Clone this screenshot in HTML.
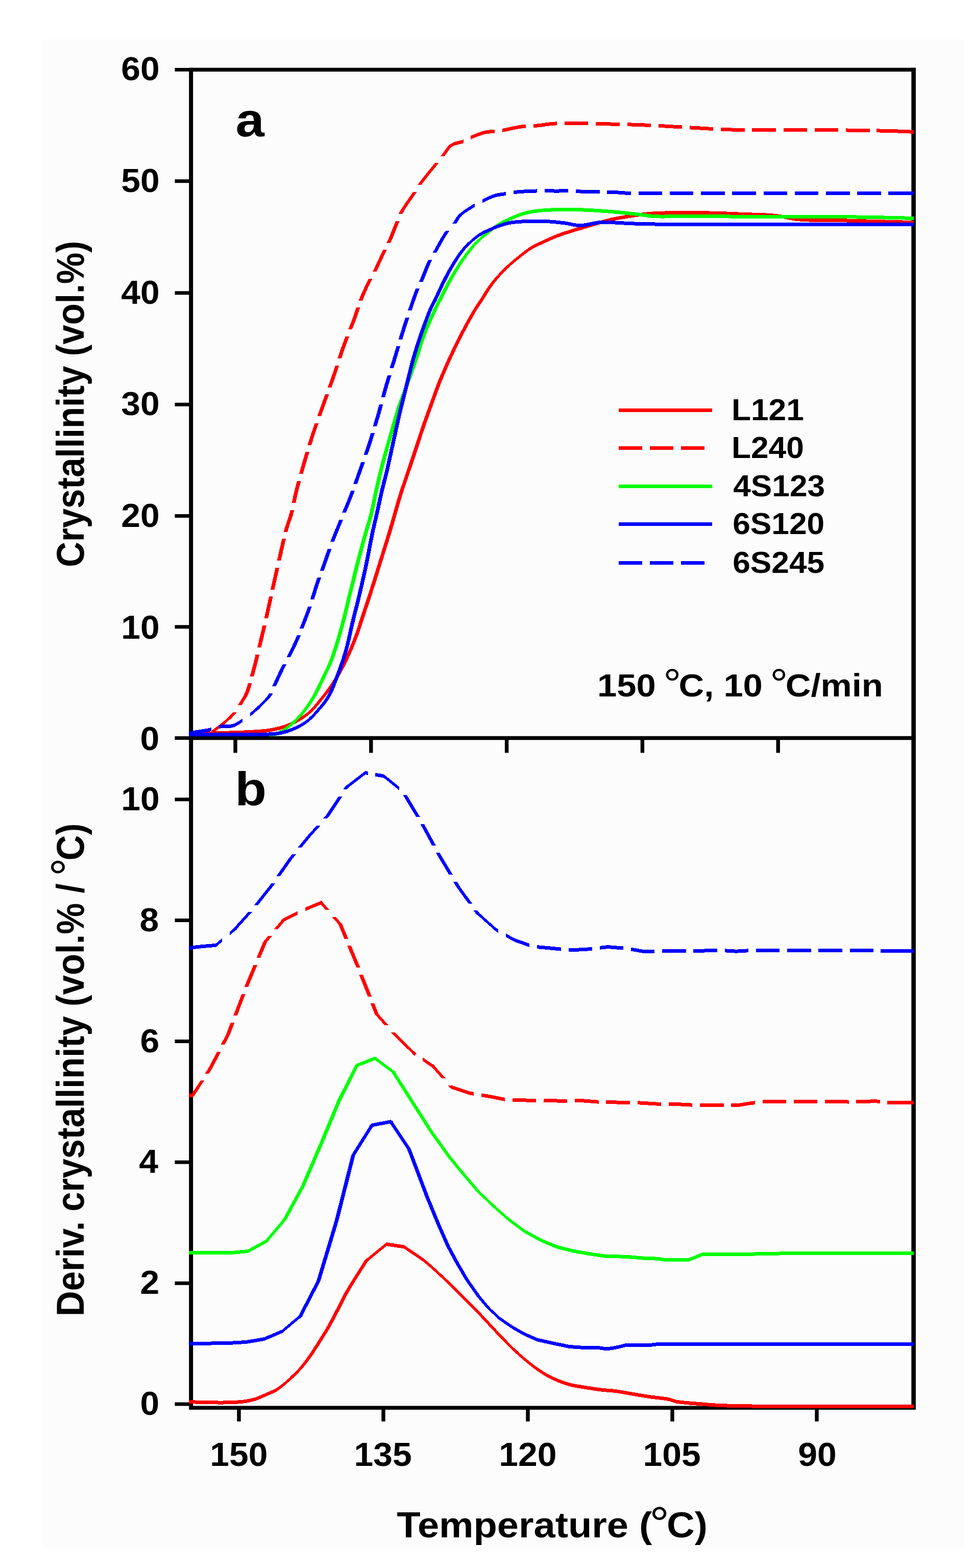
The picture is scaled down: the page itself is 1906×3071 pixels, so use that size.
<!DOCTYPE html>
<html lang="en">
<head>
<meta charset="utf-8">
<title>Crystallinity vs temperature</title>
<style>
html,body{margin:0;padding:0;background:#fff;}
body{width:1906px;height:3071px;overflow:hidden;}
svg{display:block;}
text{font-family:"Liberation Sans", "DejaVu Sans", sans-serif;font-weight:700;fill:#000;}
.ax{stroke:#000;fill:none;stroke-linecap:butt;}
</style>
</head>
<body>
<svg width="1906" height="3071" viewBox="0 0 1906 3071" role="img" aria-label="Crystallinity and derivative of crystallinity versus temperature">
<rect x="0" y="0" width="1906" height="3071" fill="#ffffff"/>
<rect x="82" y="77" width="1807" height="2957" fill="#fcfcfd"/>

<g id="axes">
<line class="ax" stroke-width="8.0" x1="374.2" y1="132.8" x2="374.2" y2="2761.0"/>
<line class="ax" stroke-width="8.6" x1="1789.6" y1="132.8" x2="1789.6" y2="2761.0"/>
<line class="ax" stroke-width="7.4" x1="374.2" y1="136.5" x2="1793.6" y2="136.5"/>
<line class="ax" stroke-width="7.4" x1="374.2" y1="1445.5" x2="1793.6" y2="1445.5"/>
<line class="ax" stroke-width="7.4" x1="374.2" y1="2757.3" x2="1793.6" y2="2757.3"/>
<line class="ax" stroke-width="7" x1="342.5" y1="136.4" x2="374.2" y2="136.4"/>
<line class="ax" stroke-width="7" x1="342.5" y1="354.8" x2="374.2" y2="354.8"/>
<line class="ax" stroke-width="7" x1="342.5" y1="573.7" x2="374.2" y2="573.7"/>
<line class="ax" stroke-width="7" x1="342.5" y1="792.2" x2="374.2" y2="792.2"/>
<line class="ax" stroke-width="7" x1="342.5" y1="1010.5" x2="374.2" y2="1010.5"/>
<line class="ax" stroke-width="7" x1="342.5" y1="1227.7" x2="374.2" y2="1227.7"/>
<line class="ax" stroke-width="7" x1="342.5" y1="1445.5" x2="374.2" y2="1445.5"/>
<line class="ax" stroke-width="7" x1="342.5" y1="1565.8" x2="374.2" y2="1565.8"/>
<line class="ax" stroke-width="7" x1="342.5" y1="1802.6" x2="374.2" y2="1802.6"/>
<line class="ax" stroke-width="7" x1="342.5" y1="2039.5" x2="374.2" y2="2039.5"/>
<line class="ax" stroke-width="7" x1="342.5" y1="2276.3" x2="374.2" y2="2276.3"/>
<line class="ax" stroke-width="7" x1="342.5" y1="2513.2" x2="374.2" y2="2513.2"/>
<line class="ax" stroke-width="7" x1="342.5" y1="2750.0" x2="374.2" y2="2750.0"/>
<line class="ax" stroke-width="7.4" x1="461.0" y1="1445.5" x2="461.0" y2="1474.5"/>
<line class="ax" stroke-width="7.4" x1="726.8" y1="1445.5" x2="726.8" y2="1474.5"/>
<line class="ax" stroke-width="7.4" x1="992.6" y1="1445.5" x2="992.6" y2="1474.5"/>
<line class="ax" stroke-width="7.4" x1="1258.4" y1="1445.5" x2="1258.4" y2="1474.5"/>
<line class="ax" stroke-width="7.4" x1="1524.2" y1="1445.5" x2="1524.2" y2="1474.5"/>
<line class="ax" stroke-width="7.4" x1="468.0" y1="2757.3" x2="468.0" y2="2784"/>
<line class="ax" stroke-width="7.4" x1="751.0" y1="2757.3" x2="751.0" y2="2784"/>
<line class="ax" stroke-width="7.4" x1="1034.0" y1="2757.3" x2="1034.0" y2="2784"/>
<line class="ax" stroke-width="7.4" x1="1317.0" y1="2757.3" x2="1317.0" y2="2784"/>
<line class="ax" stroke-width="7.4" x1="1600.0" y1="2757.3" x2="1600.0" y2="2784"/>
</g>
<g id="panel-a-curves">
<path fill="#ff0000" shape-rendering="crispEdges" d="M608.0 1389.4 612.5 1393.6 608.0 1397.8 603.5 1393.6ZM993.3 519.1 997.9 523.3 993.3 527.5 988.8 523.3ZM374.0 1433.5 377.4 1433.4 380.6 1433.3 383.9 1433.3 387.3 1433.2 390.9 1433.1 395.0 1433.0 402.6 1432.8 411.4 1432.6 420.8 1432.3 430.6 1432.1 440.3 1431.8 449.4 1431.5 457.6 1431.2 465.9 1430.9 474.0 1430.7 482.0 1430.3 489.7 1429.9 497.0 1429.5 502.7 1429.1 508.1 1428.8 513.3 1428.4 518.4 1427.9 523.5 1427.3 528.7 1426.5 534.1 1425.5 539.5 1424.4 544.9 1423.2 550.3 1421.8 555.5 1420.2 560.5 1418.5 565.0 1416.7 569.4 1414.8 573.7 1412.8 577.9 1410.6 582.0 1408.4 586.0 1406.0 589.9 1403.6 593.6 1401.2 597.3 1398.7 600.9 1396.0 604.5 1393.2 608.0 1390.1 608.0 1397.1 604.5 1400.2 600.9 1403.0 597.3 1405.7 593.6 1408.2 589.9 1410.6 586.0 1413.0 582.0 1415.4 577.9 1417.6 573.7 1419.8 569.4 1421.8 565.0 1423.7 560.5 1425.5 555.5 1427.2 550.3 1428.8 544.9 1430.2 539.5 1431.4 534.1 1432.5 528.7 1433.5 523.5 1434.3 518.4 1434.9 513.3 1435.4 508.1 1435.8 502.7 1436.1 497.0 1436.5 489.7 1436.9 482.0 1437.3 474.0 1437.7 465.9 1437.9 457.6 1438.2 449.4 1438.5 440.3 1438.8 430.6 1439.1 420.8 1439.3 411.4 1439.6 402.6 1439.8 395.0 1440.0 390.9 1440.1 387.3 1440.2 383.9 1440.3 380.6 1440.3 377.4 1440.4 374.0 1440.5ZM604.2 1393.6 608.1 1389.8 611.9 1385.7 615.7 1381.3 619.4 1376.9 623.0 1372.4 626.5 1368.0 629.9 1363.8 633.2 1359.7 636.4 1355.5 639.6 1351.3 642.6 1347.1 645.6 1342.8 648.4 1338.7 651.1 1334.5 653.7 1330.4 656.2 1326.2 658.7 1321.8 661.2 1317.4 664.0 1312.4 666.7 1307.3 669.4 1302.0 672.0 1296.7 674.6 1291.2 677.2 1285.7 680.0 1279.6 682.7 1273.5 685.4 1267.2 688.0 1260.8 690.6 1254.3 693.2 1247.6 696.0 1240.0 698.7 1232.2 701.3 1224.2 703.9 1216.1 706.5 1208.0 709.1 1200.0 711.8 1192.1 714.4 1184.2 717.0 1176.3 719.7 1168.4 722.3 1160.4 724.9 1152.4 727.6 1144.0 730.2 1135.6 732.9 1127.1 735.5 1118.6 738.2 1110.1 740.8 1101.6 743.5 1093.1 746.2 1084.6 748.9 1076.0 751.5 1067.5 754.2 1059.1 756.7 1050.8 759.1 1042.9 761.4 1035.1 763.7 1027.3 766.0 1019.6 768.1 1012.1 770.2 1005.0 771.8 999.3 773.4 993.9 774.8 988.7 776.3 983.4 777.9 978.2 779.5 972.7 781.5 966.6 783.5 960.4 785.6 954.1 787.8 947.7 790.0 941.2 792.2 934.6 794.8 927.0 797.4 919.1 800.1 911.1 802.8 903.1 805.5 895.0 808.2 887.0 810.9 879.0 813.5 871.1 816.1 863.1 818.7 855.1 821.3 847.2 824.0 839.4 826.6 831.9 829.2 824.5 831.8 817.2 834.5 809.9 837.2 802.5 839.9 794.9 842.9 786.6 846.0 778.2 849.1 769.6 852.3 761.0 855.5 752.5 858.9 744.0 862.4 735.5 866.1 726.9 869.8 718.4 873.6 709.9 877.4 701.5 881.2 693.3 884.8 685.7 888.4 678.2 892.1 670.8 895.7 663.4 899.4 656.1 903.2 648.9 907.0 641.7 911.0 634.3 915.0 627.0 919.0 620.0 922.8 613.4 926.2 607.6 928.3 604.3 930.2 601.4 932.0 598.7 933.8 596.0 935.7 593.2 937.8 590.0 941.1 584.9 944.5 579.3 948.2 573.4 952.1 567.3 956.0 561.4 960.0 555.9 964.0 550.8 968.1 545.9 972.4 541.0 976.7 536.3 981.0 531.7 985.4 527.3 989.6 523.3 997.1 523.3 993.0 527.3 988.6 531.7 984.3 536.3 979.9 541.0 975.7 545.9 971.6 550.8 967.6 555.9 963.6 561.4 959.6 567.3 955.8 573.4 952.1 579.3 948.6 584.9 945.4 590.0 943.3 593.2 941.4 596.0 939.5 598.7 937.7 601.4 935.9 604.3 933.8 607.6 930.3 613.4 926.6 620.0 922.6 627.0 918.6 634.3 914.6 641.7 910.8 648.9 907.0 656.1 903.3 663.4 899.6 670.8 896.0 678.2 892.4 685.7 888.8 693.3 885.0 701.5 881.2 709.9 877.4 718.4 873.7 726.9 870.0 735.5 866.5 744.0 863.1 752.5 859.9 761.0 856.7 769.6 853.6 778.2 850.5 786.6 847.5 794.9 844.7 802.5 842.0 809.9 839.4 817.2 836.8 824.5 834.2 831.9 831.6 839.4 828.9 847.2 826.3 855.1 823.7 863.1 821.0 871.1 818.4 879.0 815.8 887.0 813.1 895.0 810.4 903.1 807.7 911.1 805.0 919.1 802.3 927.0 799.8 934.6 797.6 941.2 795.3 947.7 793.2 954.1 791.1 960.4 789.0 966.6 787.1 972.7 785.4 978.2 783.9 983.4 782.4 988.7 780.9 993.9 779.4 999.3 777.8 1005.0 775.7 1012.1 773.5 1019.6 771.3 1027.3 769.0 1035.1 766.7 1042.9 764.3 1050.8 761.7 1059.1 759.1 1067.5 756.4 1076.0 753.7 1084.6 751.1 1093.1 748.4 1101.6 745.7 1110.1 743.1 1118.6 740.5 1127.1 737.8 1135.6 735.2 1144.0 732.5 1152.4 729.9 1160.4 727.3 1168.4 724.6 1176.3 722.0 1184.2 719.3 1192.1 716.7 1200.0 714.1 1208.0 711.5 1216.1 708.9 1224.2 706.2 1232.2 703.5 1240.0 700.8 1247.6 698.2 1254.3 695.6 1260.8 693.0 1267.2 690.3 1273.5 687.5 1279.6 684.8 1285.7 682.2 1291.2 679.6 1296.7 676.9 1302.0 674.2 1307.3 671.5 1312.4 668.8 1317.4 666.3 1321.8 663.8 1326.2 661.2 1330.4 658.6 1334.5 656.0 1338.7 653.2 1342.8 650.2 1347.1 647.1 1351.3 644.0 1355.5 640.7 1359.7 637.4 1363.8 634.1 1368.0 630.5 1372.4 626.9 1376.9 623.2 1381.3 619.5 1385.7 615.7 1389.8 611.8 1393.6ZM993.3 519.8 997.5 515.9 1001.8 512.2 1006.0 508.6 1010.3 505.0 1014.6 501.5 1018.8 498.1 1023.0 494.8 1027.2 491.5 1031.4 488.3 1035.7 485.3 1040.0 482.5 1044.2 480.1 1048.4 477.8 1052.6 475.7 1056.9 473.7 1061.1 471.8 1065.4 469.8 1069.7 467.8 1074.0 465.9 1078.3 463.9 1082.6 462.1 1086.7 460.3 1090.8 458.7 1094.1 457.4 1097.1 456.3 1100.1 455.3 1103.2 454.2 1106.4 453.2 1110.0 452.0 1115.5 450.2 1121.4 448.4 1127.7 446.4 1134.3 444.5 1140.9 442.5 1147.6 440.5 1155.3 438.2 1163.3 435.8 1171.4 433.4 1179.6 431.1 1187.6 428.9 1195.2 427.0 1201.4 425.6 1207.5 424.4 1213.4 423.3 1219.2 422.2 1225.1 421.3 1231.0 420.3 1237.0 419.4 1243.0 418.5 1249.0 417.6 1255.0 416.8 1260.9 416.1 1266.7 415.5 1271.8 415.0 1276.5 414.6 1281.2 414.3 1286.1 414.0 1291.5 413.8 1297.6 413.6 1311.3 413.3 1327.9 413.2 1346.0 413.1 1364.5 413.2 1382.1 413.4 1397.6 413.6 1407.2 413.8 1416.0 414.1 1424.4 414.5 1432.6 414.9 1441.0 415.3 1450.0 415.7 1461.4 416.1 1473.5 416.5 1486.0 416.9 1498.3 417.4 1510.1 418.1 1521.0 419.1 1528.6 420.1 1535.4 421.4 1542.0 422.7 1548.7 424.1 1555.8 425.3 1563.8 426.3 1577.5 427.2 1592.8 427.8 1609.2 428.0 1626.0 428.1 1642.8 428.2 1659.0 428.5 1674.6 428.9 1690.7 429.3 1706.6 429.8 1722.1 430.2 1736.5 430.6 1749.5 431.0 1757.2 431.2 1764.2 431.4 1770.8 431.6 1777.1 431.8 1783.4 432.0 1790.0 432.2 1790.0 439.2 1783.4 439.0 1777.1 438.8 1770.8 438.6 1764.2 438.4 1757.2 438.2 1749.5 438.0 1736.5 437.6 1722.1 437.2 1706.6 436.8 1690.7 436.3 1674.6 435.9 1659.0 435.5 1642.8 435.2 1626.0 435.1 1609.2 435.0 1592.8 434.8 1577.5 434.2 1563.8 433.3 1555.8 432.3 1548.7 431.1 1542.0 429.7 1535.4 428.4 1528.6 427.1 1521.0 426.1 1510.1 425.1 1498.3 424.4 1486.0 423.9 1473.5 423.5 1461.4 423.1 1450.0 422.7 1441.0 422.3 1432.6 421.9 1424.4 421.5 1416.0 421.1 1407.2 420.8 1397.6 420.6 1382.1 420.4 1364.5 420.2 1346.0 420.1 1327.9 420.2 1311.3 420.3 1297.6 420.6 1291.5 420.8 1286.1 421.0 1281.2 421.3 1276.5 421.6 1271.8 422.0 1266.7 422.5 1260.9 423.1 1255.0 423.8 1249.0 424.6 1243.0 425.5 1237.0 426.4 1231.0 427.3 1225.1 428.3 1219.2 429.2 1213.4 430.3 1207.5 431.4 1201.4 432.6 1195.2 434.0 1187.6 435.9 1179.6 438.1 1171.4 440.4 1163.3 442.8 1155.3 445.2 1147.6 447.5 1140.9 449.5 1134.3 451.5 1127.7 453.4 1121.4 455.4 1115.5 457.2 1110.0 459.0 1106.4 460.2 1103.2 461.2 1100.1 462.3 1097.1 463.3 1094.1 464.4 1090.8 465.7 1086.7 467.3 1082.6 469.1 1078.3 470.9 1074.0 472.9 1069.7 474.8 1065.4 476.8 1061.1 478.8 1056.9 480.7 1052.6 482.7 1048.4 484.8 1044.2 487.1 1040.0 489.5 1035.7 492.3 1031.4 495.3 1027.2 498.5 1023.0 501.8 1018.8 505.1 1014.6 508.5 1010.3 512.0 1006.0 515.6 1001.8 519.2 997.5 522.9 993.3 526.8Z"/>
<path fill="#ff0000" shape-rendering="crispEdges" d="M374.0 1435.5 380.2 1435.1 386.7 1434.9 393.3 1434.7 399.5 1434.3 400.6 1434.2 400.6 1441.2 399.5 1441.3 393.3 1441.7 386.7 1441.9 380.2 1442.1 374.0 1442.5ZM450.8 1400.8 455.4 1405.0 450.8 1409.2 446.3 1405.0ZM415.4 1430.0 416.4 1429.4 418.2 1428.1 420.1 1426.7 422.4 1425.0 427.3 1421.4 432.9 1416.9 439.0 1412.0 445.1 1406.7 450.8 1401.5 450.8 1408.5 445.1 1413.7 439.0 1419.0 432.9 1423.9 427.3 1428.4 422.4 1432.0 420.1 1433.7 418.2 1435.1 416.4 1436.4 415.4 1437.0ZM447.0 1405.0 451.9 1400.0 455.1 1396.3 456.3 1394.8 463.9 1394.8 462.7 1396.3 459.5 1400.0 454.6 1405.0ZM465.7 1381.1 467.8 1377.7 469.9 1374.6 471.8 1371.6 473.7 1368.6 475.4 1365.6 477.2 1362.3 478.9 1358.6 481.2 1352.8 483.4 1346.4 485.5 1339.5 485.9 1338.2 493.4 1338.2 493.1 1339.5 491.0 1346.4 488.8 1352.8 486.5 1358.6 484.8 1362.3 483.0 1365.6 481.2 1368.6 479.4 1371.6 477.4 1374.6 475.4 1377.7 473.2 1381.1ZM489.7 1324.5 491.6 1317.4 494.0 1308.4 496.5 1298.9 498.9 1289.2 500.7 1281.6 508.3 1281.6 506.4 1289.2 504.0 1298.9 501.6 1308.4 499.2 1317.4 497.2 1324.5ZM504.0 1267.9 505.9 1260.0 508.1 1251.0 510.2 1242.0 512.4 1233.2 514.3 1225.0 521.9 1225.0 519.9 1233.2 517.8 1242.0 515.7 1251.0 513.5 1260.0 511.6 1267.9ZM517.5 1211.3 518.6 1206.3 520.7 1196.9 522.8 1187.3 524.9 1177.8 527.0 1168.4 534.5 1168.4 532.5 1177.8 530.4 1187.3 528.3 1196.9 526.2 1206.3 525.0 1211.3ZM530.0 1154.7 531.2 1149.0 533.3 1139.5 535.5 1129.9 537.6 1120.4 539.5 1111.8 547.1 1111.8 545.2 1120.4 543.0 1129.9 540.9 1139.5 538.8 1149.0 537.5 1154.7ZM542.6 1098.1 544.0 1092.0 546.1 1082.8 548.2 1073.4 550.3 1064.1 552.4 1055.2 559.9 1055.2 557.9 1064.1 555.8 1073.4 553.7 1082.8 551.6 1092.0 550.2 1098.1ZM555.8 1041.5 556.7 1038.0 558.5 1032.1 560.3 1026.5 562.1 1021.2 563.9 1016.0 565.6 1010.7 567.2 1005.0 568.8 998.6 576.4 998.6 574.8 1005.0 573.2 1010.7 571.4 1016.0 569.6 1021.2 567.8 1026.5 566.0 1032.1 564.3 1038.0 563.4 1041.5ZM571.7 984.9 571.7 984.8 573.2 977.8 574.7 970.6 576.4 963.2 578.7 954.2 581.2 944.8 582.0 942.0 589.6 942.0 588.8 944.8 586.3 954.2 584.0 963.2 582.3 970.6 580.7 977.8 579.3 984.8 579.3 984.9ZM585.8 928.3 586.6 925.4 589.4 915.6 592.2 906.0 595.0 896.4 597.9 886.9 598.3 885.4 605.9 885.4 605.4 886.9 602.6 896.4 599.8 906.0 597.0 915.6 594.2 925.4 593.4 928.3ZM602.5 871.7 603.7 867.8 606.7 858.3 609.7 848.9 612.8 839.8 615.9 830.8 616.6 828.8 624.2 828.8 623.4 830.8 620.3 839.8 617.3 848.9 614.2 858.3 611.2 867.8 610.0 871.7ZM621.5 815.1 622.2 813.0 625.5 804.0 628.7 795.0 632.1 785.6 635.6 776.1 637.0 772.2 644.6 772.2 643.2 776.1 639.7 785.6 636.3 795.0 633.0 804.0 629.8 813.0 629.1 815.1ZM642.0 758.5 642.6 756.9 646.0 747.4 649.4 737.8 652.6 728.3 655.8 718.7 656.8 715.6 664.3 715.6 663.3 718.7 660.2 728.3 657.0 737.8 653.6 747.4 650.2 756.9 649.6 758.5ZM661.2 701.9 661.9 699.6 665.1 690.1 668.4 680.6 672.0 670.9 675.8 661.1 676.7 659.0 684.2 659.0 683.4 661.1 679.6 670.9 676.0 680.6 672.7 690.1 669.5 699.6 668.8 701.9ZM682.1 645.3 683.6 641.7 687.2 632.4 690.6 623.5 693.1 616.5 695.3 609.8 697.5 603.3 697.8 602.4 705.4 602.4 705.1 603.3 702.9 609.8 700.7 616.5 698.2 623.5 694.8 632.4 691.1 641.7 689.7 645.3ZM702.6 588.7 704.2 584.4 706.7 578.3 709.4 572.2 712.2 566.2 714.9 560.3 717.6 554.7 720.2 549.5 722.1 545.8 722.1 545.8 729.7 545.8 729.7 545.8 727.8 549.5 725.2 554.7 722.5 560.3 719.7 566.2 717.0 572.2 714.3 578.3 711.8 584.4 710.1 588.7ZM729.7 532.1 731.4 528.9 733.9 523.8 736.6 518.2 739.3 512.5 742.0 506.7 744.6 501.0 747.2 495.6 749.4 491.2 750.4 489.2 758.0 489.2 757.0 491.2 754.8 495.6 752.2 501.0 749.5 506.7 746.8 512.5 744.2 518.2 741.5 523.8 739.0 528.9 737.3 532.1ZM757.4 475.5 757.9 474.5 760.0 470.0 762.5 464.4 764.9 458.4 767.4 452.2 769.8 446.1 772.1 440.3 774.2 435.0 775.2 432.6 782.7 432.6 781.8 435.0 779.7 440.3 777.4 446.1 775.0 452.2 772.5 458.4 770.0 464.4 767.6 470.0 765.5 474.5 765.0 475.5ZM780.7 418.9 782.2 416.0 785.6 410.2 789.8 403.7 794.5 396.9 799.2 390.1 803.7 383.7 807.6 378.0 808.9 376.0 816.5 376.0 815.2 378.0 811.3 383.7 806.8 390.1 802.0 396.9 797.4 403.7 793.2 410.2 789.8 416.0 788.3 418.9ZM817.9 362.3 820.2 359.0 824.6 353.2 829.7 346.7 835.2 339.8 840.7 333.0 845.9 326.6 850.5 321.0 851.8 319.4 859.4 319.4 858.1 321.0 853.5 326.6 848.3 333.0 842.7 339.8 837.3 346.7 832.1 353.2 827.8 359.0 825.5 362.3ZM881.3 282.7 885.9 286.9 881.3 291.1 876.8 286.9ZM863.0 305.7 864.8 303.5 867.3 300.2 869.8 296.8 872.2 293.3 874.8 289.9 877.6 286.9 885.1 286.9 882.4 289.9 879.8 293.3 877.3 296.8 874.9 300.2 872.4 303.5 870.6 305.7ZM881.3 283.4 884.4 280.9 887.8 279.1 891.5 277.7 895.3 276.6 899.3 275.7 903.1 274.7 906.7 273.5 907.5 273.2 907.5 280.2 906.7 280.5 903.1 281.7 899.3 282.7 895.3 283.6 891.5 284.7 887.8 286.1 884.4 287.9 881.3 290.4ZM922.3 265.9 924.0 265.1 928.2 263.4 932.8 261.5 937.5 259.7 942.2 258.0 946.8 256.6 951.0 255.5 953.9 255.0 956.6 254.7 959.1 254.5 961.7 254.4 964.3 254.2 967.0 254.0 968.7 253.8 968.7 260.8 967.0 261.0 964.3 261.2 961.7 261.4 959.1 261.5 956.6 261.7 953.9 262.0 951.0 262.5 946.8 263.6 942.2 265.0 937.5 266.7 932.8 268.5 928.2 270.4 924.0 272.1 922.3 272.9ZM983.5 251.9 986.0 251.5 991.3 250.5 997.0 249.3 1003.1 247.9 1009.2 246.6 1015.2 245.4 1021.0 244.5 1025.9 244.0 1029.9 243.7 1029.9 250.7 1025.9 251.0 1021.0 251.5 1015.2 252.4 1009.2 253.6 1003.1 254.9 997.0 256.3 991.3 257.5 986.0 258.5 983.5 258.9ZM1044.8 243.1 1049.5 242.8 1055.1 242.2 1060.9 241.5 1066.7 240.7 1072.6 239.9 1078.5 239.2 1084.4 238.7 1090.2 238.4 1091.2 238.3 1091.2 245.3 1090.2 245.4 1084.4 245.7 1078.5 246.2 1072.6 246.9 1066.7 247.7 1060.9 248.5 1055.1 249.2 1049.5 249.8 1044.8 250.1ZM1106.0 238.1 1107.2 238.1 1113.4 238.1 1120.0 238.1 1130.4 238.2 1142.0 238.3 1152.4 238.5 1152.4 245.5 1142.0 245.3 1130.4 245.2 1120.0 245.1 1113.4 245.1 1107.2 245.1 1106.0 245.1ZM1167.2 238.9 1178.8 239.1 1190.5 239.4 1200.7 239.6 1210.7 239.9 1213.7 239.9 1213.7 246.9 1210.7 246.9 1200.7 246.6 1190.5 246.4 1178.8 246.1 1167.2 245.9ZM1228.5 240.3 1230.3 240.3 1240.1 240.6 1250.0 241.0 1260.3 241.4 1270.6 241.9 1274.9 242.1 1274.9 249.1 1270.6 248.9 1260.3 248.4 1250.0 248.0 1240.1 247.6 1230.3 247.3 1228.5 247.3ZM1289.7 242.9 1291.3 243.0 1301.7 243.5 1312.0 244.1 1322.3 244.7 1332.7 245.3 1336.1 245.5 1336.1 252.5 1332.7 252.3 1322.3 251.7 1312.0 251.1 1301.7 250.5 1291.3 250.0 1289.7 249.9ZM1351.0 246.4 1353.3 246.5 1363.6 247.1 1373.8 247.7 1383.5 248.2 1392.9 248.8 1397.4 249.0 1397.4 256.0 1392.9 255.8 1383.5 255.2 1373.8 254.7 1363.6 254.1 1353.3 253.5 1351.0 253.4ZM1412.2 249.8 1422.1 250.2 1433.3 250.5 1451.6 250.8 1458.6 250.8 1458.6 257.8 1451.6 257.8 1433.3 257.5 1422.1 257.2 1412.2 256.8ZM1473.4 250.9 1493.5 250.9 1515.6 250.8 1519.9 250.8 1519.9 257.8 1515.6 257.8 1493.5 257.9 1473.4 257.9ZM1534.7 250.8 1537.7 250.8 1559.0 250.8 1579.4 250.9 1581.1 250.9 1581.1 257.9 1579.4 257.9 1559.0 257.8 1537.7 257.8 1534.7 257.8ZM1595.9 251.0 1600.0 251.0 1620.6 251.1 1640.7 251.3 1642.3 251.3 1642.3 258.3 1640.7 258.3 1620.6 258.1 1600.0 258.0 1595.9 258.0ZM1657.2 251.4 1659.9 251.5 1678.0 251.7 1691.2 251.9 1703.6 252.1 1703.6 259.1 1691.2 258.9 1678.0 258.7 1659.9 258.5 1657.2 258.4ZM1718.4 252.4 1727.8 252.6 1739.0 252.9 1749.5 253.2 1756.9 253.4 1763.8 253.7 1764.8 253.7 1764.8 260.7 1763.8 260.7 1756.9 260.4 1749.5 260.2 1739.0 259.9 1727.8 259.6 1718.4 259.4ZM1779.7 254.4 1783.4 254.5 1790.0 254.8 1790.0 261.8 1783.4 261.5 1779.7 261.4ZM1717.4 252.4 1727.8 252.6 1739.0 252.9 1749.5 253.2 1756.9 253.4 1763.8 253.7 1770.5 254.0 1776.9 254.3 1783.4 254.5 1790.0 254.8 1790.0 261.8 1783.4 261.5 1776.9 261.3 1770.5 261.0 1763.8 260.7 1756.9 260.4 1749.5 260.2 1739.0 259.9 1727.8 259.6 1717.4 259.4Z"/>
<path fill="#00ff00" shape-rendering="crispEdges" d="M575.6 1410.2 580.1 1414.4 575.6 1418.6 571.1 1414.4ZM936.2 468.2 940.7 472.4 936.2 476.6 931.6 472.4ZM374.0 1435.0 399.8 1435.0 427.5 1435.1 455.1 1435.2 481.0 1435.3 503.2 1435.2 520.0 1435.0 524.7 1435.0 528.5 1435.1 531.9 1435.2 535.0 1435.2 538.0 1434.8 541.4 1434.0 545.6 1432.4 549.9 1430.2 554.2 1427.7 558.5 1424.8 562.7 1421.7 566.8 1418.5 571.2 1414.8 575.6 1410.9 575.6 1417.9 571.2 1421.8 566.8 1425.5 562.7 1428.7 558.5 1431.8 554.2 1434.7 549.9 1437.2 545.6 1439.4 541.4 1441.0 538.0 1441.8 535.0 1442.2 531.9 1442.2 528.5 1442.1 524.7 1442.0 520.0 1442.0 503.2 1442.2 481.0 1442.3 455.1 1442.2 427.5 1442.1 399.8 1442.0 374.0 1442.0ZM571.8 1414.4 576.1 1410.2 580.3 1405.8 584.4 1401.3 588.4 1396.7 592.4 1391.8 596.3 1386.7 600.0 1381.5 603.7 1376.1 607.2 1370.6 610.6 1365.0 614.1 1358.9 617.4 1352.6 620.6 1346.2 623.7 1339.8 626.7 1333.3 629.7 1327.0 632.5 1321.2 635.2 1315.6 637.9 1310.1 640.5 1304.4 643.0 1298.4 645.6 1292.0 648.9 1283.0 652.2 1273.3 655.4 1263.1 658.6 1252.6 661.7 1242.1 664.6 1231.7 667.5 1221.2 670.2 1210.6 672.8 1200.0 675.4 1189.3 677.9 1178.6 680.5 1168.0 683.1 1157.4 685.8 1146.7 688.4 1136.0 691.0 1125.4 693.6 1114.9 696.2 1104.7 698.6 1095.4 701.0 1086.2 703.4 1077.2 705.8 1068.3 708.2 1059.5 710.6 1050.8 712.9 1042.9 715.2 1035.1 717.4 1027.4 719.7 1019.9 721.8 1012.4 723.7 1005.0 725.3 998.5 726.6 992.1 727.9 985.9 729.1 979.6 730.5 973.1 731.9 966.3 733.8 957.8 735.8 949.0 737.9 940.0 740.1 930.8 742.3 921.6 744.6 912.4 747.1 902.9 749.7 893.4 752.4 883.8 755.1 874.2 757.8 864.6 760.5 855.2 763.1 846.1 765.7 836.9 768.2 827.8 770.8 818.8 773.5 809.9 776.2 801.3 778.8 793.6 781.4 786.1 784.1 778.7 786.8 771.5 789.5 764.2 792.2 756.8 794.9 749.5 797.5 742.2 800.2 735.0 802.8 727.6 805.5 720.1 808.2 712.4 811.3 703.2 814.3 693.7 817.4 684.0 820.5 674.2 823.8 664.6 827.2 655.2 830.8 646.2 834.7 637.0 838.6 627.9 842.6 619.2 846.2 611.3 849.4 604.4 851.0 601.0 852.5 598.1 853.8 595.5 855.1 592.9 856.6 590.2 858.2 587.0 860.9 581.6 863.9 575.6 867.1 569.2 870.5 562.6 874.0 556.0 877.5 549.5 881.4 542.6 885.5 535.6 889.8 528.5 894.1 521.6 898.5 514.8 902.9 508.3 907.0 502.6 911.1 497.0 915.3 491.6 919.5 486.3 923.8 481.3 928.2 476.5 932.4 472.4 939.9 472.4 935.8 476.5 931.4 481.3 927.1 486.3 922.8 491.6 918.7 497.0 914.6 502.6 910.5 508.3 906.1 514.8 901.7 521.6 897.3 528.5 893.1 535.6 889.0 542.6 885.1 549.5 881.5 556.0 878.1 562.6 874.7 569.2 871.5 575.6 868.5 581.6 865.8 587.0 864.2 590.2 862.7 592.9 861.4 595.5 860.0 598.1 858.6 601.0 857.0 604.4 853.8 611.3 850.1 619.2 846.2 627.9 842.2 637.0 838.4 646.2 834.8 655.2 831.4 664.6 828.1 674.2 825.0 684.0 821.9 693.7 818.8 703.2 815.8 712.4 813.1 720.1 810.4 727.6 807.7 735.0 805.1 742.2 802.4 749.5 799.8 756.8 797.1 764.2 794.4 771.5 791.7 778.7 789.0 786.1 786.4 793.6 783.8 801.3 781.1 809.9 778.4 818.8 775.8 827.8 773.2 836.9 770.7 846.1 768.1 855.2 765.4 864.6 762.7 874.2 759.9 883.8 757.3 893.4 754.7 902.9 752.2 912.4 749.9 921.6 747.6 930.8 745.5 940.0 743.4 949.0 741.4 957.8 739.5 966.3 738.0 973.1 736.7 979.6 735.5 985.9 734.2 992.1 732.8 998.5 731.3 1005.0 729.4 1012.4 727.2 1019.9 725.0 1027.4 722.7 1035.1 720.4 1042.9 718.2 1050.8 715.8 1059.5 713.4 1068.3 711.0 1077.2 708.6 1086.2 706.2 1095.4 703.8 1104.7 701.2 1114.9 698.6 1125.4 696.0 1136.0 693.3 1146.7 690.7 1157.4 688.1 1168.0 685.5 1178.6 682.9 1189.3 680.4 1200.0 677.8 1210.6 675.0 1221.2 672.2 1231.7 669.2 1242.1 666.2 1252.6 663.0 1263.1 659.8 1273.3 656.5 1283.0 653.2 1292.0 650.6 1298.4 648.0 1304.4 645.4 1310.1 642.8 1315.6 640.1 1321.2 637.3 1327.0 634.3 1333.3 631.3 1339.8 628.2 1346.2 625.0 1352.6 621.6 1358.9 618.2 1365.0 614.8 1370.6 611.2 1376.1 607.6 1381.5 603.8 1386.7 600.0 1391.8 596.0 1396.7 592.0 1401.3 587.9 1405.8 583.7 1410.2 579.4 1414.4ZM936.2 468.9 940.4 464.9 944.8 461.1 949.1 457.5 953.4 454.1 957.5 450.8 960.7 448.2 963.8 445.6 966.9 443.2 969.9 440.9 973.1 438.7 976.5 436.5 980.5 434.2 984.6 431.9 988.9 429.8 993.3 427.7 997.7 425.7 1002.0 423.8 1006.2 422.0 1010.4 420.3 1014.6 418.6 1018.8 417.0 1023.0 415.6 1027.3 414.3 1031.5 413.2 1035.6 412.3 1039.8 411.5 1044.0 410.7 1048.3 410.1 1052.7 409.5 1057.7 408.9 1062.9 408.5 1068.2 408.1 1073.6 407.8 1079.0 407.5 1084.4 407.3 1090.3 407.1 1096.3 407.0 1102.4 406.9 1108.4 406.9 1114.3 407.0 1120.0 407.0 1124.7 407.0 1129.2 407.1 1133.6 407.2 1138.0 407.3 1142.6 407.5 1147.6 407.7 1154.8 408.1 1162.5 408.5 1170.6 409.0 1178.9 409.6 1187.1 410.2 1195.2 410.8 1203.2 411.5 1211.2 412.2 1219.2 413.0 1227.2 413.8 1235.1 414.7 1242.9 415.5 1250.1 416.3 1257.2 417.3 1264.2 418.2 1271.2 419.1 1278.3 419.8 1285.7 420.3 1293.9 420.5 1301.9 420.5 1310.1 420.2 1318.8 419.9 1328.0 419.6 1338.0 419.5 1355.0 419.5 1373.6 419.7 1393.6 420.0 1414.8 420.3 1437.0 420.6 1460.0 420.8 1493.5 420.9 1530.7 421.0 1569.6 421.0 1608.3 421.1 1645.1 421.2 1678.0 421.5 1698.8 421.8 1718.1 422.2 1736.3 422.6 1754.0 423.0 1771.8 423.5 1790.0 423.9 1790.0 430.9 1771.8 430.5 1754.0 430.0 1736.3 429.6 1718.1 429.2 1698.8 428.8 1678.0 428.5 1645.1 428.2 1608.3 428.1 1569.6 428.0 1530.7 428.0 1493.5 427.9 1460.0 427.8 1437.0 427.6 1414.8 427.3 1393.6 427.0 1373.6 426.7 1355.0 426.5 1338.0 426.5 1328.0 426.6 1318.8 426.9 1310.1 427.2 1301.9 427.5 1293.9 427.5 1285.7 427.3 1278.3 426.8 1271.2 426.1 1264.2 425.2 1257.2 424.3 1250.1 423.3 1242.9 422.5 1235.1 421.7 1227.2 420.8 1219.2 420.0 1211.2 419.2 1203.2 418.5 1195.2 417.8 1187.1 417.2 1178.9 416.6 1170.6 416.0 1162.5 415.5 1154.8 415.1 1147.6 414.7 1142.6 414.5 1138.0 414.3 1133.6 414.2 1129.2 414.1 1124.7 414.0 1120.0 414.0 1114.3 414.0 1108.4 413.9 1102.4 413.9 1096.3 414.0 1090.3 414.1 1084.4 414.3 1079.0 414.5 1073.6 414.8 1068.2 415.1 1062.9 415.5 1057.7 415.9 1052.7 416.5 1048.3 417.1 1044.0 417.7 1039.8 418.5 1035.6 419.3 1031.5 420.2 1027.3 421.3 1023.0 422.6 1018.8 424.0 1014.6 425.6 1010.4 427.3 1006.2 429.0 1002.0 430.8 997.7 432.7 993.3 434.7 988.9 436.8 984.6 438.9 980.5 441.2 976.5 443.5 973.1 445.7 969.9 447.9 966.9 450.2 963.8 452.6 960.7 455.2 957.5 457.8 953.4 461.1 949.1 464.5 944.8 468.1 940.4 471.9 936.2 475.9Z"/>
<path fill="#0000ff" shape-rendering="crispEdges" d="M609.7 1401.5 614.2 1405.7 609.7 1409.9 605.1 1405.7ZM918.9 472.4 923.4 476.6 918.9 480.8 914.3 476.6ZM370.0 1435.0 391.9 1435.1 414.6 1435.2 437.3 1435.3 459.2 1435.4 479.4 1435.3 497.0 1435.1 506.4 1434.9 515.0 1434.8 523.0 1434.7 530.5 1434.3 537.7 1433.8 544.6 1432.9 549.8 1432.0 554.7 1430.9 559.4 1429.7 563.9 1428.4 568.4 1426.8 573.0 1425.0 577.9 1422.9 582.9 1420.5 587.8 1418.0 592.6 1415.2 597.3 1412.3 601.7 1409.1 605.8 1405.8 609.7 1402.2 609.7 1409.2 605.8 1412.8 601.7 1416.1 597.3 1419.3 592.6 1422.2 587.8 1425.0 582.9 1427.5 577.9 1429.9 573.0 1432.0 568.4 1433.8 563.9 1435.4 559.4 1436.7 554.7 1437.9 549.8 1439.0 544.6 1439.9 537.7 1440.8 530.5 1441.3 523.0 1441.7 515.0 1441.8 506.4 1441.9 497.0 1442.1 479.4 1442.3 459.2 1442.4 437.3 1442.3 414.6 1442.2 391.9 1442.1 370.0 1442.0ZM605.9 1405.7 609.6 1401.9 613.2 1398.0 616.7 1394.0 620.2 1390.0 623.6 1386.1 626.9 1382.2 630.1 1378.3 633.2 1374.1 636.3 1369.8 639.2 1365.0 642.7 1358.5 646.0 1351.4 649.2 1343.8 652.3 1336.0 655.3 1328.2 658.2 1320.5 661.1 1312.8 663.9 1305.0 666.7 1297.1 669.3 1289.2 671.8 1281.2 674.2 1273.0 676.6 1264.2 678.7 1255.2 680.8 1246.2 682.7 1237.0 684.7 1228.0 686.8 1219.0 688.9 1210.5 691.0 1202.1 693.1 1193.8 695.3 1185.4 697.4 1176.8 699.5 1168.0 701.9 1157.8 704.4 1147.3 706.8 1136.6 709.2 1125.8 711.6 1115.2 713.8 1104.7 715.8 1094.9 717.7 1085.1 719.5 1075.4 721.3 1065.9 723.1 1056.6 724.9 1047.6 726.5 1040.1 728.2 1033.0 729.8 1026.0 731.5 1019.1 733.1 1012.1 734.7 1005.0 736.4 997.5 738.0 989.9 739.6 982.3 741.3 974.8 742.9 967.3 744.6 960.0 746.2 953.6 747.8 947.4 749.3 941.3 750.9 935.1 752.6 928.8 754.2 922.0 756.3 913.2 758.3 903.8 760.4 894.1 762.6 884.3 764.7 874.5 766.8 864.8 768.9 855.2 771.0 845.6 773.1 836.0 775.2 826.4 777.4 816.9 779.5 807.6 781.6 798.9 783.7 790.4 785.8 782.0 788.0 773.6 790.1 765.2 792.2 756.8 794.3 748.3 796.3 739.9 798.4 731.4 800.5 722.9 802.6 714.4 804.9 706.0 807.3 697.5 809.9 689.0 812.5 680.5 815.2 672.1 818.0 663.6 820.8 655.2 823.9 646.4 827.2 637.2 830.6 628.0 833.9 619.2 837.0 611.2 839.9 604.4 841.4 601.2 842.7 598.5 844.0 596.0 845.3 593.6 846.7 591.0 848.2 588.0 850.6 582.9 853.3 577.2 856.0 571.2 858.9 564.9 861.9 558.7 864.8 552.7 867.8 546.8 870.8 540.9 874.0 535.0 877.1 529.2 880.4 523.5 883.8 517.8 887.2 512.3 890.7 506.8 894.3 501.3 898.0 496.0 901.9 490.9 906.0 486.0 910.4 481.3 915.1 476.6 922.7 476.6 918.0 481.3 913.6 486.0 909.5 490.9 905.6 496.0 901.9 501.3 898.3 506.8 894.8 512.3 891.4 517.8 888.0 523.5 884.7 529.2 881.5 535.0 878.4 540.9 875.4 546.8 872.4 552.7 869.4 558.7 866.5 564.9 863.6 571.2 860.8 577.2 858.2 582.9 855.8 588.0 854.3 591.0 852.9 593.6 851.6 596.0 850.3 598.5 849.0 601.2 847.5 604.4 844.6 611.2 841.5 619.2 838.1 628.0 834.8 637.2 831.5 646.4 828.4 655.2 825.5 663.6 822.7 672.1 820.1 680.5 817.4 689.0 814.9 697.5 812.5 706.0 810.2 714.4 808.0 722.9 805.9 731.4 803.9 739.9 801.9 748.3 799.8 756.8 797.7 765.2 795.5 773.6 793.4 782.0 791.3 790.4 789.2 798.9 787.1 807.6 784.9 816.9 782.8 826.4 780.7 836.0 778.6 845.6 776.5 855.2 774.4 864.8 772.3 874.5 770.1 884.3 768.0 894.1 765.9 903.8 763.8 913.2 761.8 922.0 760.1 928.8 758.5 935.1 756.9 941.3 755.3 947.4 753.8 953.6 752.2 960.0 750.5 967.3 748.9 974.8 747.2 982.3 745.6 989.9 743.9 997.5 742.3 1005.0 740.7 1012.1 739.0 1019.1 737.4 1026.0 735.7 1033.0 734.1 1040.1 732.5 1047.6 730.7 1056.6 728.9 1065.9 727.1 1075.4 725.3 1085.1 723.4 1094.9 721.4 1104.7 719.2 1115.2 716.8 1125.8 714.4 1136.6 711.9 1147.3 709.5 1157.8 707.1 1168.0 705.0 1176.8 702.8 1185.4 700.7 1193.8 698.6 1202.1 696.5 1210.5 694.4 1219.0 692.3 1228.0 690.3 1237.0 688.3 1246.2 686.3 1255.2 684.1 1264.2 681.8 1273.0 679.4 1281.2 676.9 1289.2 674.2 1297.1 671.5 1305.0 668.7 1312.8 665.8 1320.5 662.9 1328.2 659.9 1336.0 656.8 1343.8 653.6 1351.4 650.3 1358.5 646.8 1365.0 643.8 1369.8 640.8 1374.1 637.7 1378.3 634.5 1382.2 631.2 1386.1 627.8 1390.0 624.3 1394.0 620.8 1398.0 617.2 1401.9 613.5 1405.7ZM918.9 473.1 923.8 468.6 928.7 464.4 933.6 460.5 938.4 457.1 942.2 454.7 945.9 452.7 949.6 450.9 953.3 449.2 957.0 447.6 960.6 446.0 963.8 444.5 967.0 443.1 970.1 441.8 973.2 440.5 976.4 439.3 979.7 438.1 983.3 437.0 986.9 435.9 990.6 434.9 994.4 433.9 998.2 433.1 1002.0 432.4 1006.1 431.8 1010.3 431.3 1014.5 431.0 1018.8 430.7 1023.1 430.4 1027.3 430.2 1031.5 430.0 1035.7 429.8 1039.8 429.6 1044.0 429.5 1048.3 429.5 1052.7 429.5 1057.8 429.6 1063.1 429.8 1068.5 430.0 1074.0 430.3 1079.3 430.7 1084.4 431.1 1088.8 431.5 1093.1 431.9 1097.4 432.4 1101.6 432.9 1105.8 433.4 1110.0 434.0 1114.2 434.7 1118.3 435.6 1122.4 436.5 1126.6 437.3 1131.0 438.0 1135.7 438.2 1142.2 437.8 1149.2 436.7 1156.5 435.3 1164.0 433.7 1171.4 432.5 1178.6 431.7 1185.4 431.5 1192.0 431.7 1198.7 432.1 1205.3 432.5 1212.1 433.0 1219.0 433.4 1226.3 433.7 1233.4 434.1 1240.6 434.4 1248.3 434.7 1256.8 435.0 1266.7 435.3 1290.8 435.6 1319.6 435.8 1352.0 435.9 1386.9 435.8 1423.3 435.8 1460.0 435.8 1509.9 435.8 1563.5 435.9 1619.5 435.8 1676.8 435.8 1734.0 435.8 1790.0 435.8 1790.0 442.8 1734.0 442.8 1676.8 442.8 1619.5 442.8 1563.5 442.9 1509.9 442.8 1460.0 442.8 1423.3 442.8 1386.9 442.8 1352.0 442.9 1319.6 442.8 1290.8 442.6 1266.7 442.3 1256.8 442.0 1248.3 441.7 1240.6 441.4 1233.4 441.1 1226.3 440.7 1219.0 440.4 1212.1 440.0 1205.3 439.5 1198.7 439.1 1192.0 438.7 1185.4 438.5 1178.6 438.7 1171.4 439.5 1164.0 440.7 1156.5 442.3 1149.2 443.7 1142.2 444.8 1135.7 445.2 1131.0 445.0 1126.6 444.3 1122.4 443.5 1118.3 442.6 1114.2 441.7 1110.0 441.0 1105.8 440.4 1101.6 439.9 1097.4 439.4 1093.1 438.9 1088.8 438.5 1084.4 438.1 1079.3 437.7 1074.0 437.3 1068.5 437.0 1063.1 436.8 1057.8 436.6 1052.7 436.5 1048.3 436.5 1044.0 436.5 1039.8 436.6 1035.7 436.8 1031.5 437.0 1027.3 437.2 1023.1 437.4 1018.8 437.7 1014.5 438.0 1010.3 438.3 1006.1 438.8 1002.0 439.4 998.2 440.1 994.4 440.9 990.6 441.9 986.9 442.9 983.3 444.0 979.7 445.1 976.4 446.3 973.2 447.5 970.1 448.8 967.0 450.1 963.8 451.5 960.6 453.0 957.0 454.6 953.3 456.2 949.6 457.9 945.9 459.7 942.2 461.7 938.4 464.1 933.6 467.5 928.7 471.4 923.8 475.6 918.9 480.1Z"/>
<path fill="#0000ff" shape-rendering="crispEdges" d="M370.0 1432.5 377.1 1431.4 384.3 1430.2 391.6 1429.1 398.6 1428.0 405.3 1426.8 411.3 1425.5 414.1 1424.8 414.1 1431.8 411.3 1432.5 405.3 1433.8 398.6 1435.0 391.6 1436.1 384.3 1437.2 377.1 1438.4 370.0 1439.5ZM429.0 1420.2 432.0 1419.5 435.9 1419.1 439.9 1419.0 444.0 1419.0 448.1 1419.0 452.0 1418.7 455.7 1418.0 458.8 1416.9 461.8 1415.5 464.7 1414.0 467.5 1412.2 470.3 1410.4 473.2 1408.5 475.4 1407.1 475.4 1414.1 473.2 1415.5 470.3 1417.4 467.5 1419.2 464.7 1421.0 461.8 1422.5 458.8 1423.9 455.7 1425.0 452.0 1425.7 448.1 1426.0 444.0 1426.0 439.9 1426.0 435.9 1426.1 432.0 1426.5 429.0 1427.2ZM505.8 1381.9 510.3 1386.1 505.8 1390.3 501.3 1386.1ZM490.2 1396.2 493.8 1393.2 499.5 1388.2 505.8 1382.6 505.8 1389.6 499.5 1395.2 493.8 1400.2 490.2 1403.2ZM502.0 1386.1 508.6 1379.9 514.8 1373.6 520.4 1367.5 524.9 1361.8 527.1 1358.2 527.5 1357.6 535.1 1357.6 534.7 1358.2 532.5 1361.8 528.0 1367.5 522.4 1373.6 516.1 1379.9 509.6 1386.1ZM533.3 1343.9 534.5 1341.0 536.9 1335.8 539.5 1330.3 542.2 1324.5 544.9 1318.7 547.6 1313.1 550.2 1307.8 552.4 1303.6 553.8 1301.0 561.4 1301.0 559.9 1303.6 557.8 1307.8 555.2 1313.1 552.5 1318.7 549.7 1324.5 547.1 1330.3 544.5 1335.8 542.1 1341.0 540.8 1343.9ZM561.3 1287.3 563.0 1284.0 565.7 1278.7 568.4 1273.1 571.2 1267.4 573.9 1261.6 576.5 1256.0 578.9 1250.7 580.7 1246.6 581.6 1244.4 589.2 1244.4 588.3 1246.6 586.5 1250.7 584.1 1256.0 581.5 1261.6 578.8 1267.4 576.0 1273.1 573.2 1278.7 570.6 1284.0 568.9 1287.3ZM587.0 1230.7 588.4 1227.0 590.5 1221.7 592.7 1216.1 594.9 1210.3 597.2 1204.5 599.3 1198.9 601.2 1193.6 602.7 1189.4 603.2 1187.8 610.8 1187.8 610.2 1189.4 608.8 1193.6 606.8 1198.9 604.7 1204.5 602.5 1210.3 600.3 1216.1 598.1 1221.7 596.0 1227.0 594.6 1230.7ZM607.7 1174.1 607.8 1173.9 609.1 1169.8 610.6 1164.9 612.2 1159.9 613.8 1154.8 615.4 1149.6 617.0 1144.5 618.6 1139.6 620.2 1135.2 621.7 1131.2 629.3 1131.2 627.7 1135.2 626.2 1139.6 624.5 1144.5 622.9 1149.6 621.3 1154.8 619.8 1159.9 618.2 1164.9 616.7 1169.8 615.4 1173.9 615.3 1174.1ZM626.9 1117.5 628.2 1114.0 630.0 1108.9 631.9 1103.6 633.7 1098.2 635.6 1092.9 637.4 1087.6 639.2 1082.5 640.8 1078.1 642.1 1074.6 649.7 1074.6 648.4 1078.1 646.8 1082.5 645.0 1087.6 643.1 1092.9 641.3 1098.2 639.4 1103.6 637.6 1108.9 635.8 1114.0 634.5 1117.5ZM647.2 1060.9 648.7 1057.0 650.7 1051.9 652.8 1046.5 655.0 1041.1 657.2 1035.7 659.4 1030.4 661.4 1025.4 663.1 1021.3 664.4 1018.0 672.0 1018.0 670.7 1021.3 669.0 1025.4 666.9 1030.4 664.8 1035.7 662.6 1041.1 660.4 1046.5 658.3 1051.9 656.3 1057.0 654.8 1060.9ZM670.1 1004.3 671.2 1001.5 673.3 996.5 675.4 991.4 677.6 986.1 679.8 980.8 682.0 975.2 684.2 969.5 686.8 962.6 687.3 961.4 694.8 961.4 694.4 962.6 691.8 969.5 689.6 975.2 687.3 980.8 685.1 986.1 683.0 991.4 680.8 996.5 678.8 1001.5 677.7 1004.3ZM692.2 947.7 694.8 940.4 697.5 932.8 700.2 925.0 703.3 916.3 706.5 907.5 707.5 904.8 715.0 904.8 714.1 907.5 710.9 916.3 707.8 925.0 705.0 932.8 702.3 940.4 699.8 947.7ZM712.3 891.1 713.0 889.3 716.1 880.2 719.2 871.0 722.3 861.6 725.2 852.2 726.5 848.2 734.1 848.2 732.8 852.2 729.8 861.6 726.8 871.0 723.7 880.2 720.5 889.3 719.9 891.1ZM730.7 834.5 731.1 833.1 733.9 823.5 736.7 814.0 739.4 804.5 742.0 794.9 743.0 791.6 750.5 791.6 749.6 794.9 747.0 804.5 744.3 814.0 741.5 823.5 738.6 833.1 738.2 834.5ZM746.6 777.9 747.2 775.9 749.8 766.3 752.5 756.8 755.3 747.3 758.2 737.7 759.1 735.0 766.7 735.0 765.8 737.7 762.9 747.3 760.1 756.8 757.4 766.3 754.8 775.9 754.2 777.9ZM763.3 721.3 764.1 718.7 767.1 709.2 770.0 699.7 773.0 690.0 775.9 680.2 776.5 678.4 784.1 678.4 783.5 680.2 780.5 690.0 777.6 699.7 774.7 709.2 771.7 718.7 770.9 721.3ZM780.6 664.7 781.8 660.7 784.7 651.4 787.5 642.5 789.7 635.7 791.8 629.2 793.9 622.9 794.3 621.8 801.9 621.8 801.5 622.9 799.4 629.2 797.3 635.7 795.1 642.5 792.3 651.4 789.4 660.7 788.2 664.7ZM799.0 608.1 800.2 604.4 802.4 598.1 804.6 591.7 806.8 585.3 808.9 579.2 811.1 573.3 813.2 568.0 814.4 565.2 822.0 565.2 820.8 568.0 818.7 573.3 816.5 579.2 814.3 585.3 812.1 591.7 809.9 598.1 807.8 604.4 806.5 608.1ZM821.0 551.5 821.9 549.5 824.3 543.8 826.9 537.3 829.7 530.4 832.4 523.6 835.2 517.1 837.8 511.4 839.3 508.6 846.9 508.6 845.4 511.4 842.7 517.1 840.0 523.6 837.2 530.4 834.5 537.3 831.9 543.8 829.5 549.5 828.6 551.5ZM847.4 494.9 848.9 492.4 852.2 486.6 855.8 480.1 859.6 473.1 863.6 466.3 867.5 459.9 871.2 454.3 873.1 452.0 880.6 452.0 878.8 454.3 875.0 459.9 871.1 466.3 867.2 473.1 863.4 480.1 859.8 486.6 856.5 492.4 855.0 494.9ZM900.3 418.3 904.8 422.5 900.3 426.7 895.8 422.5ZM885.8 438.3 887.0 436.8 888.7 434.4 890.1 432.0 891.5 429.6 892.9 427.2 894.5 424.8 896.5 422.5 904.1 422.5 902.1 424.8 900.4 427.2 899.0 429.6 897.7 432.0 896.3 434.4 894.6 436.8 893.3 438.3ZM900.3 419.0 903.9 415.7 908.2 412.4 913.0 409.0 917.9 405.8 922.8 402.8 927.3 400.0 929.7 398.6 929.7 405.6 927.3 407.0 922.8 409.8 917.9 412.8 913.0 416.0 908.2 419.4 903.9 422.7 900.3 426.0ZM944.5 390.6 944.5 390.6 948.0 388.9 951.6 387.1 955.3 385.4 959.0 383.7 962.7 382.0 966.4 380.6 970.0 379.4 973.2 378.6 976.4 378.0 979.5 377.5 982.7 377.1 985.8 376.7 989.0 376.2 990.9 375.9 990.9 382.9 989.0 383.2 985.8 383.7 982.7 384.1 979.5 384.5 976.4 385.0 973.2 385.6 970.0 386.4 966.4 387.6 962.7 389.0 959.0 390.7 955.3 392.4 951.6 394.1 948.0 395.9 944.5 397.6 944.5 397.6ZM1005.7 373.3 1008.0 373.0 1014.0 372.4 1020.6 371.9 1027.7 371.4 1035.1 371.1 1042.4 370.7 1049.5 370.5 1052.1 370.4 1052.1 377.4 1049.5 377.5 1042.4 377.7 1035.1 378.1 1027.7 378.4 1020.6 378.9 1014.0 379.4 1008.0 380.0 1005.7 380.3ZM1067.0 370.3 1070.9 370.4 1078.0 370.4 1084.7 370.5 1090.8 370.5 1094.8 370.5 1098.5 370.4 1101.9 370.3 1105.4 370.3 1109.0 370.3 1113.0 370.3 1113.4 370.3 1113.4 377.3 1113.0 377.3 1109.0 377.3 1105.4 377.3 1101.9 377.3 1098.5 377.4 1094.8 377.5 1090.8 377.5 1084.7 377.5 1078.0 377.4 1070.9 377.4 1067.0 377.3ZM1128.2 371.0 1131.6 371.2 1138.3 371.6 1145.1 371.9 1152.0 372.2 1159.9 372.4 1168.2 372.4 1174.6 372.4 1174.6 379.4 1168.2 379.4 1159.9 379.4 1152.0 379.2 1145.1 378.9 1138.3 378.6 1131.6 378.2 1128.2 378.0ZM1189.4 372.5 1192.9 372.5 1200.0 372.7 1204.4 372.9 1208.3 373.3 1212.0 373.6 1215.7 374.0 1219.6 374.3 1224.0 374.5 1230.9 374.7 1235.9 374.7 1235.9 381.7 1230.9 381.7 1224.0 381.5 1219.6 381.3 1215.7 381.0 1212.0 380.6 1208.3 380.3 1204.4 379.9 1200.0 379.7 1192.9 379.5 1189.4 379.5ZM1250.7 374.7 1254.3 374.7 1263.6 374.6 1274.0 374.6 1297.1 374.7 1297.1 381.7 1274.0 381.6 1263.6 381.6 1254.3 381.7 1250.7 381.7ZM1311.9 374.7 1325.3 374.8 1356.3 374.9 1358.3 374.9 1358.3 381.9 1356.3 381.9 1325.3 381.8 1311.9 381.7ZM1373.2 374.9 1389.7 375.0 1419.6 375.0 1419.6 382.0 1389.7 382.0 1373.2 381.9ZM1434.4 375.1 1460.0 375.1 1480.8 375.1 1480.8 382.1 1460.0 382.1 1434.4 382.1ZM1495.6 375.1 1509.6 375.1 1542.1 375.2 1542.1 382.2 1509.6 382.1 1495.6 382.1ZM1556.9 375.2 1563.0 375.2 1603.3 375.2 1603.3 382.2 1563.0 382.2 1556.9 382.2ZM1618.1 375.1 1619.1 375.1 1664.5 375.1 1664.5 382.1 1619.1 382.1 1618.1 382.1ZM1679.4 375.1 1725.8 375.1 1725.8 382.1 1679.4 382.1ZM1740.6 375.1 1787.0 375.1 1787.0 382.1 1740.6 382.1ZM1739.5 375.1 1790.0 375.1 1790.0 382.1 1739.5 382.1Z"/>
</g>
<g id="panel-b-curves">
<path fill="#ff0000" shape-rendering="crispEdges" d="M572.8 2692.2 577.3 2696.4 572.8 2700.6 568.3 2696.4ZM717.4 2465.2 721.9 2469.4 717.4 2473.6 712.9 2469.4ZM863.9 2494.1 868.4 2498.3 863.9 2502.5 859.3 2498.3ZM1012.0 2644.1 1016.5 2648.3 1012.0 2652.5 1007.4 2648.3ZM370.0 2742.0 374.6 2742.2 379.1 2742.4 383.6 2742.6 388.2 2742.8 393.1 2743.0 398.4 2743.1 407.0 2743.2 416.7 2743.4 426.9 2743.5 437.1 2743.5 446.7 2743.3 455.1 2743.1 460.1 2742.9 464.7 2742.6 469.1 2742.3 473.3 2741.9 477.3 2741.5 481.3 2740.9 484.7 2740.3 487.9 2739.7 491.1 2739.1 494.2 2738.3 497.1 2737.5 500.0 2736.7 502.4 2735.9 504.6 2735.1 506.8 2734.2 508.9 2733.3 511.0 2732.3 513.2 2731.4 515.4 2730.4 517.6 2729.5 519.9 2728.5 522.1 2727.5 524.3 2726.5 526.5 2725.5 528.7 2724.6 530.9 2723.7 533.1 2722.8 535.4 2721.9 537.5 2720.8 539.7 2719.7 542.0 2718.3 544.2 2716.9 546.4 2715.3 548.6 2713.7 550.7 2712.0 552.9 2710.3 555.1 2708.5 557.3 2706.7 559.5 2704.8 561.7 2702.9 563.9 2701.0 566.1 2699.0 568.3 2697.0 570.6 2695.0 572.8 2692.9 572.8 2699.9 570.6 2702.0 568.3 2704.0 566.1 2706.0 563.9 2708.0 561.7 2709.9 559.5 2711.8 557.3 2713.7 555.1 2715.5 552.9 2717.3 550.7 2719.0 548.6 2720.7 546.4 2722.3 544.2 2723.9 542.0 2725.3 539.7 2726.7 537.5 2727.8 535.4 2728.9 533.1 2729.8 530.9 2730.7 528.7 2731.6 526.5 2732.5 524.3 2733.5 522.1 2734.5 519.9 2735.5 517.6 2736.5 515.4 2737.4 513.2 2738.4 511.0 2739.3 508.9 2740.3 506.8 2741.2 504.6 2742.1 502.4 2742.9 500.0 2743.7 497.1 2744.5 494.2 2745.3 491.1 2746.1 487.9 2746.7 484.7 2747.3 481.3 2747.9 477.3 2748.5 473.3 2748.9 469.1 2749.3 464.7 2749.6 460.1 2749.9 455.1 2750.1 446.7 2750.3 437.1 2750.5 426.9 2750.5 416.7 2750.4 407.0 2750.2 398.4 2750.1 393.1 2750.0 388.2 2749.8 383.6 2749.6 379.1 2749.4 374.6 2749.2 370.0 2749.0ZM569.0 2696.4 571.2 2694.3 573.4 2692.2 575.6 2690.0 577.9 2687.7 580.1 2685.3 582.3 2682.9 584.5 2680.5 586.7 2678.0 588.8 2675.4 591.1 2672.7 593.3 2669.9 595.5 2667.0 597.7 2664.1 599.9 2661.2 602.0 2658.2 604.3 2655.0 606.5 2651.8 608.7 2648.5 610.9 2645.1 613.0 2641.8 615.2 2638.4 617.5 2634.9 619.7 2631.3 622.0 2627.7 624.2 2624.1 626.4 2620.6 628.5 2617.2 630.3 2614.3 632.1 2611.5 633.8 2608.8 635.5 2606.1 637.3 2603.2 639.1 2600.0 641.8 2595.3 644.5 2590.2 647.4 2584.8 650.3 2579.3 653.3 2573.6 656.2 2568.0 659.3 2562.0 662.4 2555.9 665.5 2549.7 668.7 2543.4 672.1 2536.8 675.9 2530.0 681.4 2520.7 687.5 2510.8 693.9 2500.5 700.5 2490.1 707.2 2479.7 713.6 2469.4 721.2 2469.4 714.7 2479.7 708.1 2490.1 701.5 2500.5 695.0 2510.8 689.0 2520.7 683.5 2530.0 679.7 2536.8 676.3 2543.4 673.0 2549.7 670.0 2555.9 666.9 2562.0 663.8 2568.0 660.8 2573.6 657.9 2579.3 655.0 2584.8 652.1 2590.2 649.3 2595.3 646.7 2600.0 644.8 2603.2 643.1 2606.1 641.4 2608.8 639.6 2611.5 637.9 2614.3 636.1 2617.2 634.0 2620.6 631.8 2624.1 629.6 2627.7 627.3 2631.3 625.0 2634.9 622.8 2638.4 620.6 2641.8 618.4 2645.1 616.2 2648.5 614.0 2651.8 611.8 2655.0 609.6 2658.2 607.4 2661.2 605.3 2664.1 603.1 2667.0 600.9 2669.9 598.6 2672.7 596.4 2675.4 594.2 2678.0 592.1 2680.5 589.9 2682.9 587.7 2685.3 585.4 2687.7 583.2 2690.0 581.0 2692.2 578.8 2694.3 576.6 2696.4ZM717.4 2465.9 724.0 2460.5 730.6 2455.0 737.2 2449.6 743.9 2444.1 750.5 2438.7 757.1 2433.2 762.9 2434.1 768.7 2435.0 774.5 2435.9 780.2 2436.8 786.0 2437.7 791.8 2438.6 798.2 2443.0 804.7 2447.4 811.2 2451.8 817.6 2456.2 824.0 2460.6 830.5 2465.0 834.7 2468.7 838.8 2472.3 843.0 2475.9 847.1 2479.6 851.3 2483.3 855.4 2487.0 859.6 2490.9 863.9 2494.8 863.9 2501.8 859.6 2497.9 855.4 2494.0 851.3 2490.3 847.1 2486.6 843.0 2482.9 838.8 2479.3 834.7 2475.7 830.5 2472.0 824.0 2467.6 817.6 2463.2 811.2 2458.8 804.7 2454.4 798.2 2450.0 791.8 2445.6 786.0 2444.7 780.2 2443.8 774.5 2442.9 768.7 2442.0 762.9 2441.1 757.1 2440.2 750.5 2445.7 743.9 2451.1 737.2 2456.6 730.6 2462.0 724.0 2467.5 717.4 2472.9ZM867.7 2498.3 871.9 2502.2 876.2 2506.2 880.4 2510.2 884.6 2514.3 888.8 2518.5 893.1 2522.7 897.3 2526.9 901.5 2531.2 905.8 2535.5 910.0 2539.7 914.2 2543.9 918.5 2548.1 922.7 2552.3 927.0 2556.5 931.2 2560.7 935.4 2565.0 939.6 2569.4 943.9 2573.9 948.1 2578.4 952.3 2583.0 956.6 2587.5 960.8 2592.0 965.0 2596.5 969.2 2601.0 973.5 2605.6 977.7 2610.1 981.9 2614.6 986.2 2619.0 990.4 2623.3 994.6 2627.6 998.8 2631.9 1003.0 2636.2 1007.3 2640.3 1011.6 2644.4 1015.8 2648.3 1008.2 2648.3 1004.0 2644.4 999.7 2640.3 995.5 2636.2 991.2 2631.9 987.0 2627.6 982.8 2623.3 978.6 2619.0 974.4 2614.6 970.1 2610.1 965.9 2605.6 961.7 2601.0 957.4 2596.5 953.2 2592.0 949.0 2587.5 944.8 2583.0 940.5 2578.4 936.3 2573.9 932.1 2569.4 927.8 2565.0 923.6 2560.7 919.4 2556.5 915.1 2552.3 910.9 2548.1 906.6 2543.9 902.4 2539.7 898.2 2535.5 894.0 2531.2 889.7 2526.9 885.5 2522.7 881.3 2518.5 877.0 2514.3 872.8 2510.2 868.6 2506.2 864.3 2502.2 860.1 2498.3ZM1012.0 2644.8 1016.2 2648.6 1020.4 2652.4 1024.6 2656.1 1028.9 2659.7 1033.2 2663.2 1037.4 2666.6 1041.6 2669.9 1045.8 2673.1 1050.0 2676.3 1054.3 2679.3 1058.6 2682.2 1062.7 2684.8 1066.8 2687.4 1071.0 2689.8 1075.2 2692.1 1079.5 2694.4 1084.0 2696.5 1089.0 2698.7 1094.2 2700.9 1099.5 2703.0 1104.9 2704.9 1110.3 2706.6 1115.7 2708.2 1121.0 2709.5 1126.2 2710.6 1131.5 2711.5 1136.9 2712.4 1142.2 2713.2 1147.5 2714.0 1152.8 2714.9 1158.2 2715.7 1163.6 2716.6 1168.9 2717.3 1174.1 2718.1 1179.2 2718.7 1183.5 2719.1 1187.7 2719.5 1191.8 2719.7 1195.9 2720.0 1200.1 2720.4 1204.6 2720.9 1210.6 2721.7 1216.9 2722.8 1223.4 2723.9 1230.0 2725.1 1236.5 2726.2 1242.7 2727.3 1248.1 2728.2 1253.4 2729.1 1258.6 2729.9 1263.8 2730.8 1269.0 2731.6 1274.4 2732.4 1280.4 2733.2 1286.7 2733.9 1293.1 2734.6 1299.3 2735.4 1305.0 2736.2 1310.0 2737.1 1312.7 2737.8 1315.0 2738.5 1317.0 2739.3 1319.2 2740.1 1321.5 2740.8 1324.4 2741.5 1331.3 2742.6 1339.6 2743.5 1348.8 2744.4 1358.4 2745.1 1367.6 2745.8 1376.0 2746.5 1381.9 2747.0 1387.3 2747.5 1392.5 2747.9 1397.9 2748.3 1403.6 2748.7 1410.0 2749.0 1420.7 2749.4 1432.1 2749.8 1444.5 2750.1 1458.0 2750.3 1472.9 2750.5 1489.5 2750.7 1528.5 2751.0 1575.5 2751.2 1627.9 2751.3 1682.9 2751.4 1738.0 2751.4 1790.4 2751.5 1790.4 2758.5 1738.0 2758.4 1682.9 2758.4 1627.9 2758.3 1575.5 2758.2 1528.5 2758.0 1489.5 2757.7 1472.9 2757.5 1458.0 2757.3 1444.5 2757.1 1432.1 2756.8 1420.7 2756.4 1410.0 2756.0 1403.6 2755.7 1397.9 2755.3 1392.5 2754.9 1387.3 2754.5 1381.9 2754.0 1376.0 2753.5 1367.6 2752.8 1358.4 2752.1 1348.8 2751.4 1339.6 2750.5 1331.3 2749.6 1324.4 2748.5 1321.5 2747.8 1319.2 2747.1 1317.0 2746.3 1315.0 2745.5 1312.7 2744.8 1310.0 2744.1 1305.0 2743.2 1299.3 2742.4 1293.1 2741.6 1286.7 2740.9 1280.4 2740.2 1274.4 2739.4 1269.0 2738.6 1263.8 2737.8 1258.6 2736.9 1253.4 2736.1 1248.1 2735.2 1242.7 2734.3 1236.5 2733.2 1230.0 2732.1 1223.4 2730.9 1216.9 2729.8 1210.6 2728.7 1204.6 2727.9 1200.1 2727.4 1195.9 2727.0 1191.8 2726.7 1187.7 2726.5 1183.5 2726.1 1179.2 2725.7 1174.1 2725.1 1168.9 2724.3 1163.6 2723.6 1158.2 2722.7 1152.8 2721.9 1147.5 2721.0 1142.2 2720.2 1136.9 2719.4 1131.5 2718.5 1126.2 2717.6 1121.0 2716.5 1115.7 2715.2 1110.3 2713.6 1104.9 2711.9 1099.5 2710.0 1094.2 2707.9 1089.0 2705.7 1084.0 2703.5 1079.5 2701.4 1075.2 2699.1 1071.0 2696.8 1066.8 2694.4 1062.7 2691.8 1058.6 2689.2 1054.3 2686.3 1050.0 2683.3 1045.8 2680.1 1041.6 2676.9 1037.4 2673.6 1033.2 2670.2 1028.9 2666.7 1024.6 2663.1 1020.4 2659.4 1016.2 2655.6 1012.0 2651.8Z"/>
<path fill="#ff0000" shape-rendering="crispEdges" d="M377.5 2140.8 382.0 2145.0 377.5 2149.2 373.0 2145.0ZM370.0 2141.9 377.5 2141.5 377.5 2148.5 370.0 2148.9ZM373.7 2145.0 392.7 2116.3 400.2 2116.3 381.3 2145.0ZM401.7 2102.6 406.1 2096.0 425.3 2059.7 432.9 2059.7 413.7 2096.0 409.3 2102.6ZM432.5 2046.0 442.6 2027.0 451.7 2003.1 459.3 2003.1 450.2 2027.0 440.1 2046.0ZM457.0 1989.4 473.4 1946.5 480.9 1946.5 464.5 1989.4ZM478.6 1932.8 479.1 1931.5 496.6 1889.9 504.2 1889.9 486.7 1931.5 486.2 1932.8ZM502.4 1876.2 515.7 1844.5 525.2 1833.3 532.8 1833.3 523.3 1844.5 509.9 1876.2ZM556.0 1797.3 560.5 1801.5 556.0 1805.7 551.5 1801.5ZM536.8 1819.6 552.2 1801.5 559.8 1801.5 544.4 1819.6ZM556.0 1798.0 582.8 1784.4 582.8 1791.4 556.0 1805.0ZM629.0 1763.8 633.5 1768.0 629.0 1772.2 624.5 1768.0ZM597.6 1777.4 629.0 1764.5 629.0 1771.5 597.6 1784.4ZM632.8 1768.0 645.2 1781.9 637.6 1781.9 625.2 1768.0ZM657.4 1795.6 670.3 1810.0 682.1 1838.5 674.5 1838.5 662.7 1810.0 649.8 1795.6ZM687.8 1852.2 705.6 1895.1 698.0 1895.1 680.2 1852.2ZM711.0 1908.8 728.0 1951.7 720.4 1951.7 703.4 1908.8ZM733.4 1965.4 741.8 1986.5 761.3 2008.3 753.7 2008.3 734.2 1986.5 725.8 1965.4ZM811.4 2059.2 815.9 2063.4 811.4 2067.6 806.9 2063.4ZM773.6 2022.0 778.7 2027.7 815.2 2063.4 807.6 2063.4 771.1 2027.7 766.0 2022.0ZM811.4 2059.9 813.0 2061.0 813.0 2068.0 811.4 2066.9ZM847.9 2083.8 852.4 2088.0 847.9 2092.2 843.4 2088.0ZM827.8 2071.0 847.9 2084.5 847.9 2091.5 827.8 2078.0ZM851.7 2088.0 873.4 2112.4 865.8 2112.4 844.1 2088.0ZM884.4 2124.8 888.9 2129.0 884.4 2133.2 879.9 2129.0ZM885.6 2126.1 888.2 2129.0 880.6 2129.0 878.0 2126.1ZM884.4 2125.5 920.9 2137.7 927.6 2138.8 927.6 2145.8 920.9 2144.7 884.4 2132.5ZM942.5 2141.2 957.4 2143.7 988.9 2149.8 988.9 2156.8 957.4 2150.7 942.5 2148.2ZM1003.7 2151.0 1030.4 2151.5 1050.1 2151.5 1050.1 2158.5 1030.4 2158.5 1003.7 2158.0ZM1064.9 2151.5 1066.9 2151.5 1103.4 2153.0 1111.4 2152.8 1111.4 2159.8 1103.4 2160.0 1066.9 2158.5 1064.9 2158.5ZM1126.2 2152.5 1139.9 2152.2 1172.6 2154.7 1172.6 2161.7 1139.9 2159.2 1126.2 2159.5ZM1187.4 2155.2 1233.8 2155.9 1233.8 2162.9 1187.4 2162.2ZM1248.7 2156.2 1249.4 2156.2 1285.9 2158.5 1295.1 2158.6 1295.1 2165.6 1285.9 2165.5 1249.4 2163.2 1248.7 2163.2ZM1309.9 2158.8 1322.4 2158.9 1356.3 2160.7 1356.3 2167.7 1322.4 2165.9 1309.9 2165.8ZM1371.1 2160.7 1417.6 2160.6 1417.6 2167.6 1371.1 2167.7ZM1432.4 2160.5 1450.0 2160.5 1468.4 2157.5 1478.8 2156.1 1478.8 2163.1 1468.4 2164.5 1450.0 2167.5 1432.4 2167.5ZM1493.6 2154.1 1495.0 2153.9 1540.0 2154.1 1540.0 2161.1 1495.0 2160.9 1493.6 2161.1ZM1554.9 2154.1 1601.3 2154.3 1601.3 2161.3 1554.9 2161.1ZM1616.1 2154.3 1660.4 2154.5 1662.5 2154.5 1662.5 2161.5 1660.4 2161.5 1616.1 2161.3ZM1677.3 2154.3 1700.0 2154.0 1712.0 2152.7 1723.8 2154.4 1723.8 2161.4 1712.0 2159.7 1700.0 2161.0 1677.3 2161.3ZM1738.6 2156.0 1785.0 2156.2 1785.0 2163.2 1738.6 2163.0ZM1738.2 2156.0 1790.0 2156.2 1790.0 2163.2 1738.2 2163.0Z"/>
<path fill="#00ff00" shape-rendering="crispEdges" d="M521.7 2426.8 526.2 2431.0 521.7 2435.2 517.2 2431.0ZM698.9 2082.5 703.4 2086.7 698.9 2090.9 694.4 2086.7ZM770.3 2095.4 774.8 2099.6 770.3 2103.8 765.8 2099.6ZM966.5 2357.7 971.0 2361.9 966.5 2366.1 962.0 2361.9ZM370.0 2450.4 450.0 2450.4 485.7 2447.1 521.7 2427.5 521.7 2434.5 485.7 2454.1 450.0 2457.4 370.0 2457.4ZM517.9 2431.0 553.9 2388.4 589.5 2323.0 625.1 2240.5 660.7 2155.0 695.1 2086.7 702.7 2086.7 668.3 2155.0 632.7 2240.5 597.1 2323.0 561.5 2388.4 525.5 2431.0ZM698.9 2083.2 734.6 2069.3 770.3 2096.1 770.3 2103.1 734.6 2076.3 698.9 2090.2ZM774.1 2099.6 811.4 2158.1 847.9 2215.5 884.6 2266.7 913.2 2301.6 941.8 2334.9 970.3 2361.9 962.7 2361.9 934.2 2334.9 905.6 2301.6 877.0 2266.7 840.3 2215.5 803.8 2158.1 766.5 2099.6ZM966.5 2358.4 995.0 2383.8 1026.8 2407.5 1058.6 2425.1 1090.3 2438.4 1122.0 2446.5 1153.8 2452.1 1185.6 2456.8 1226.8 2457.8 1258.6 2460.5 1290.0 2461.8 1303.8 2464.3 1348.5 2464.3 1376.0 2453.2 1523.9 2452.2 1530.7 2450.8 1790.4 2450.5 1790.4 2457.5 1530.7 2457.8 1523.9 2459.2 1376.0 2460.2 1348.5 2471.3 1303.8 2471.3 1290.0 2468.8 1258.6 2467.5 1226.8 2464.8 1185.6 2463.8 1153.8 2459.1 1122.0 2453.5 1090.3 2445.4 1058.6 2432.1 1026.8 2414.5 995.0 2390.8 966.5 2365.4Z"/>
<path fill="#0000ff" shape-rendering="crispEdges" d="M588.4 2573.3 592.9 2577.5 588.4 2581.7 583.9 2577.5ZM728.7 2199.6 733.2 2203.8 728.7 2208.0 724.2 2203.8ZM765.4 2192.6 769.9 2196.8 765.4 2201.0 760.9 2196.8ZM979.0 2578.3 983.5 2582.5 979.0 2586.7 974.5 2582.5ZM370.0 2628.2 446.8 2627.0 482.2 2625.0 517.6 2619.0 553.0 2604.0 588.4 2574.0 588.4 2581.0 553.0 2611.0 517.6 2626.0 482.2 2632.0 446.8 2634.0 370.0 2635.2ZM584.6 2577.5 620.0 2509.0 655.4 2391.5 688.2 2262.3 724.9 2203.8 732.5 2203.8 695.8 2262.3 663.0 2391.5 627.6 2509.0 592.2 2577.5ZM728.7 2200.3 765.4 2193.3 765.4 2200.3 728.7 2207.3ZM769.2 2196.8 804.9 2250.4 840.8 2345.0 862.4 2397.5 881.4 2440.5 900.5 2476.0 919.5 2508.0 941.8 2539.5 960.8 2562.0 982.8 2582.5 975.2 2582.5 953.2 2562.0 934.2 2539.5 911.9 2508.0 892.9 2476.0 873.8 2440.5 854.8 2397.5 833.2 2345.0 797.3 2250.4 761.6 2196.8ZM979.0 2579.0 1004.6 2596.5 1026.8 2609.2 1052.0 2620.3 1084.0 2627.5 1115.7 2634.0 1147.5 2636.2 1172.9 2636.2 1188.7 2638.4 1204.6 2636.2 1226.8 2630.8 1274.4 2630.8 1290.3 2628.9 1790.0 2629.3 1790.0 2636.3 1290.3 2635.9 1274.4 2637.8 1226.8 2637.8 1204.6 2643.2 1188.7 2645.4 1172.9 2643.2 1147.5 2643.2 1115.7 2641.0 1084.0 2634.5 1052.0 2627.3 1026.8 2616.2 1004.6 2603.5 979.0 2586.0Z"/>
<path fill="#0000ff" shape-rendering="crispEdges" d="M370.0 1853.4 386.6 1851.0 395.0 1850.3 395.0 1857.3 386.6 1858.0 370.0 1860.4ZM370.0 1853.4 373.6 1852.9 373.6 1859.9 370.0 1860.4ZM388.4 1850.8 423.1 1847.8 434.8 1837.8 434.8 1844.8 423.1 1854.8 388.4 1857.8ZM459.7 1815.8 464.2 1820.0 459.7 1824.2 455.2 1820.0ZM449.7 1825.1 459.7 1816.5 459.7 1823.5 449.7 1832.1ZM455.9 1820.0 486.2 1786.4 493.8 1786.4 463.5 1820.0ZM497.8 1772.7 529.0 1733.5 531.6 1729.8 539.2 1729.8 536.6 1733.5 505.4 1772.7ZM541.2 1716.1 565.5 1681.5 572.4 1673.2 579.9 1673.2 573.1 1681.5 548.8 1716.1ZM583.6 1659.5 602.1 1637.0 620.7 1616.6 628.2 1616.6 609.7 1637.0 591.2 1659.5ZM633.1 1602.9 638.6 1596.8 663.1 1560.0 670.7 1560.0 646.2 1596.8 640.7 1602.9ZM679.0 1537.6 683.5 1541.8 679.0 1546.0 674.5 1541.8ZM672.2 1546.3 675.2 1541.8 682.8 1541.8 679.8 1546.3ZM679.0 1538.3 715.5 1510.0 720.6 1510.9 720.6 1517.9 715.5 1517.0 679.0 1545.3ZM735.4 1513.6 752.1 1516.7 781.8 1540.6 781.8 1547.6 752.1 1523.7 735.4 1520.6ZM796.9 1556.9 822.7 1599.8 815.1 1599.8 789.3 1556.9ZM830.7 1613.5 854.1 1656.4 846.5 1656.4 823.2 1613.5ZM861.5 1670.1 865.5 1677.4 887.0 1713.0 879.4 1713.0 857.9 1677.4 854.0 1670.1ZM895.3 1726.7 902.1 1738.0 925.2 1769.6 917.6 1769.6 894.5 1738.0 887.7 1726.7ZM934.8 1783.8 939.3 1788.0 934.8 1792.2 930.3 1788.0ZM935.2 1783.3 938.6 1788.0 931.0 1788.0 927.6 1783.3ZM934.8 1784.5 971.4 1817.2 976.2 1819.9 976.2 1826.9 971.4 1824.2 934.8 1791.5ZM991.0 1828.2 1007.9 1837.7 1037.4 1848.0 1037.4 1855.0 1007.9 1844.7 991.0 1835.2ZM1052.2 1851.2 1081.0 1853.8 1098.7 1855.6 1098.7 1862.6 1081.0 1860.8 1052.2 1858.2ZM1113.5 1857.1 1117.6 1857.5 1154.1 1855.3 1159.9 1854.6 1159.9 1861.6 1154.1 1862.3 1117.6 1864.5 1113.5 1864.1ZM1174.7 1852.9 1190.7 1851.1 1221.1 1853.5 1221.1 1860.5 1190.7 1858.1 1174.7 1859.9ZM1236.0 1855.6 1263.8 1860.5 1282.4 1859.6 1282.4 1866.6 1263.8 1867.5 1236.0 1862.6ZM1297.2 1858.9 1300.3 1858.8 1343.6 1858.6 1343.6 1865.6 1300.3 1865.8 1297.2 1865.9ZM1358.4 1858.6 1404.9 1858.4 1404.9 1865.4 1358.4 1865.6ZM1419.7 1858.3 1420.0 1858.3 1441.6 1859.7 1465.0 1858.3 1466.1 1858.3 1466.1 1865.3 1465.0 1865.3 1441.6 1866.7 1420.0 1865.3 1419.7 1865.3ZM1480.9 1858.3 1527.3 1858.3 1527.3 1865.3 1480.9 1865.3ZM1542.2 1858.3 1588.6 1858.4 1588.6 1865.4 1542.2 1865.3ZM1603.4 1858.4 1649.8 1858.4 1649.8 1865.4 1603.4 1865.4ZM1664.6 1858.4 1711.1 1858.5 1711.1 1865.5 1664.6 1865.4ZM1725.9 1858.5 1772.3 1858.5 1772.3 1865.5 1725.9 1865.5ZM1787.1 1858.5 1790.0 1858.5 1790.0 1865.5 1787.1 1865.5ZM1725.4 1858.5 1790.0 1858.5 1790.0 1865.5 1725.4 1865.5Z"/>
</g>
<g id="legend">
<path fill="#ff0000" shape-rendering="crispEdges" d="M1211.5 799.8 1395.0 799.8 1395.0 806.8 1211.5 806.8Z"/>
<path fill="#ff0000" shape-rendering="crispEdges" d="M1211.5 874.4 1257.9 874.4 1257.9 881.4 1211.5 881.4ZM1272.7 874.4 1319.2 874.4 1319.2 881.4 1272.7 881.4ZM1334.0 874.4 1380.4 874.4 1380.4 881.4 1334.0 881.4Z"/>
<path fill="#00ff00" shape-rendering="crispEdges" d="M1211.5 948.6 1395.0 948.6 1395.0 955.6 1211.5 955.6Z"/>
<path fill="#0000ff" shape-rendering="crispEdges" d="M1211.5 1023.2 1395.0 1023.2 1395.0 1030.2 1211.5 1030.2Z"/>
<path fill="#0000ff" shape-rendering="crispEdges" d="M1211.5 1098.6 1257.9 1098.6 1257.9 1105.6 1211.5 1105.6ZM1272.7 1098.6 1319.2 1098.6 1319.2 1105.6 1272.7 1105.6ZM1334.0 1098.6 1380.4 1098.6 1380.4 1105.6 1334.0 1105.6Z"/>
</g>
<g id="labels">
<text transform="translate(237.3 157.4) scale(1.0600 1)" font-size="64.0">60</text>
<text transform="translate(237.3 376.1) scale(1.0600 1)" font-size="64.0">50</text>
<text transform="translate(237.3 594.7) scale(1.0600 1)" font-size="64.0">40</text>
<text transform="translate(237.3 813.3) scale(1.0600 1)" font-size="64.0">30</text>
<text transform="translate(237.3 1031.9) scale(1.0600 1)" font-size="64.0">20</text>
<text transform="translate(237.3 1250.5) scale(1.0600 1)" font-size="64.0">10</text>
<text transform="translate(274.4 1469.2) scale(1.0600 1)" font-size="64.0">0</text>
<text transform="translate(237.3 1587.2) scale(1.0600 1)" font-size="64.0">10</text>
<text transform="translate(273.4 1823.9) scale(1.0600 1)" font-size="64.0">8</text>
<text transform="translate(274.4 2060.5) scale(1.0600 1)" font-size="64.0">6</text>
<text transform="translate(272.3 2297.2) scale(1.0600 1)" font-size="64.0">4</text>
<text transform="translate(274.4 2533.8) scale(1.0600 1)" font-size="64.0">2</text>
<text transform="translate(274.4 2770.5) scale(1.0600 1)" font-size="64.0">0</text>
<text transform="translate(411.2 2870.5) scale(1.0600 1)" font-size="64.0">150</text>
<text transform="translate(693.6 2870.5) scale(1.0600 1)" font-size="64.0">135</text>
<text transform="translate(977.2 2870.5) scale(1.0600 1)" font-size="64.0">120</text>
<text transform="translate(1259.6 2870.5) scale(1.0600 1)" font-size="64.0">105</text>
<text transform="translate(1563.3 2870.5) scale(1.0600 1)" font-size="64.0">90</text>
<text transform="translate(1433.0 822.7) scale(1.0636 1)" font-size="58.5">L121</text>
<text transform="translate(1433.0 897.3) scale(1.0636 1)" font-size="58.5">L240</text>
<text transform="translate(1436.2 971.5) scale(1.0636 1)" font-size="58.5">4S123</text>
<text transform="translate(1435.2 1046.1) scale(1.0636 1)" font-size="58.5">6S120</text>
<text transform="translate(1435.2 1121.5) scale(1.0636 1)" font-size="58.5">6S245</text>
<text transform="translate(1170.0 1364.0) scale(1.0909 1)" font-size="63">150 <tspan font-size="80.6" font-weight="400" dx="-4.2" dy="3.2">°</tspan><tspan dx="-4.3" dy="-3.2">C, 10 </tspan><tspan font-size="80.6" font-weight="400" dx="-4.2" dy="3.2">°</tspan><tspan dx="-4.3" dy="-3.2">C/min</tspan></text>
<text transform="translate(461.5 267.1) scale(1.1000 1)" font-size="92">a</text>
<text transform="translate(460.3 1577.0) scale(1.1000 1)" font-size="92">b</text>
<text transform="translate(777.2 3011.2) scale(1.0758 1)" font-size="70.5">Temperature (<tspan font-size="90.2" font-weight="400" dx="-4.7" dy="3.5">°</tspan><tspan dx="-4.8" dy="-3.5">C)</tspan></text>
<text transform="translate(164.0 1110.8) rotate(-90) scale(1 1.11)" font-size="68.87">Crystallinity (vol.%)</text>
<text transform="translate(164.2 2578.0) rotate(-90) scale(1 1.11)" font-size="68.82">Deriv. crystallinity (vol.% / <tspan font-size="88.1" font-weight="400" dx="-4.5" dy="3.4">°</tspan><tspan dx="-4.7" dy="-3.4">C)</tspan></text>
</g>
</svg>
</body>
</html>
